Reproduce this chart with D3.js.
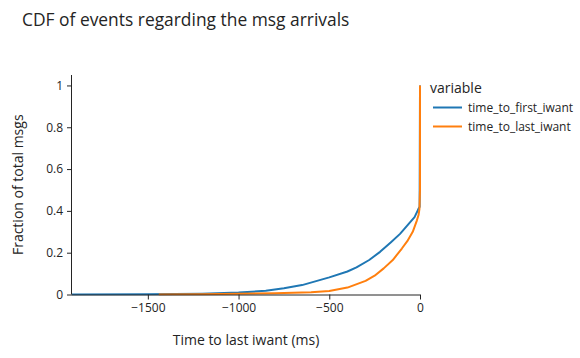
<!DOCTYPE html>
<html><head><meta charset="utf-8">
<script src="https://cdn.jsdelivr.net/npm/d3@7"></script>
<style>body{margin:0;background:#fff}svg{display:block}text{font-family:"Open Sans",sans-serif;fill:rgb(36,36,36)}</style>
</head><body>
<svg id="c" width="580" height="358"></svg>
<script>
const seriesNames = ["time_to_first_iwant", "time_to_last_iwant"];
const colors = ["#1f77b4", "#ff7f0e"];
const firstT = [-1918,-1500,-1200,-1000,-850,-750,-650,-500,-400,-350,-280,-220,-160,-110,-60,-30,-11,-2,0];
const firstF = [0,0.001,0.004,0.009,0.018,0.03,0.045,0.082,0.11,0.13,0.165,0.204,0.25,0.29,0.34,0.37,0.405,0.42,1.0];
const lastT = [-1440,-1200,-1000,-800,-600,-500,-400,-300,-250,-200,-150,-100,-70,-40,-17,-8,-3,0,0];
const lastF = [0,0.001,0.003,0.006,0.011,0.017,0.033,0.065,0.09,0.125,0.165,0.22,0.255,0.3,0.355,0.38,0.41,0.5,1.0];
const xTicks = [-1500,-1000,-500,0];
const yTicks = [0,0.2,0.4,0.6,0.8,1];
const title = "CDF of events regarding the msg arrivals";
const xTitle = "Time to last iwant (ms)";
const yTitle = "Fraction of total msgs";
const legendTitle = "variable";

const svg = d3.select("#c");
const L=72, R=420, T=75, B=294.5;
const x = d3.scaleLinear().domain([-1918,0]).range([L,R]);
const y = d3.scaleLinear().domain([0,1.05]).range([B,T]);

svg.append("text").attr("x",22).attr("y",26).attr("font-size",17.4).text(title);

const series = [firstT.map((t,i)=>[t,firstF[i]]), lastT.map((t,i)=>[t,lastF[i]])];
const line = d3.line().x(d=>x(d[0])).y(d=>y(d[1]));
svg.append("clipPath").attr("id","cp").append("rect").attr("x",L).attr("y",T-2).attr("width",R-L+2).attr("height",B-T+3);
const g = svg.append("g").attr("clip-path","url(#cp)");
series.forEach((s,i)=>{
  g.append("path").attr("d",line(s)).attr("fill","none").attr("stroke",colors[i]).attr("stroke-width",2).attr("stroke-linejoin","round");
});

const xa = svg.append("g").attr("transform",`translate(0,${B})`)
  .call(d3.axisBottom(x).tickValues(xTicks).tickSize(5).tickPadding(4).tickFormat(d=>d===0?"0":d3.format("d")(d).replace("-","\u2212")));
const ya = svg.append("g").attr("transform",`translate(${L},0)`)
  .call(d3.axisLeft(y).tickValues(yTicks).tickSize(5).tickPadding(4).tickFormat(d=>d3.format("~g")(d)));
[xa,ya].forEach(a=>{
  a.selectAll("path").attr("stroke","rgb(36,36,36)");
  a.selectAll("line").attr("stroke","rgb(36,36,36)");
  a.selectAll("text").attr("font-size",12).attr("fill","rgb(36,36,36)").style("font-family","'Open Sans',sans-serif");
});
xa.select(".domain").attr("d",`M${L},0.5H${R}`);
ya.select(".domain").attr("d",`M-0.5,${T}V${B}`);

svg.append("text").attr("x",(L+R)/2).attr("y",345).attr("text-anchor","middle").attr("font-size",14).text(xTitle);
svg.append("text").attr("transform",`translate(23,${(T+B)/2}) rotate(-90)`).attr("text-anchor","middle").attr("font-size",14).text(yTitle);

const lg = svg.append("g");
lg.append("text").attr("x",430).attr("y",93).attr("font-size",14).text(legendTitle);
seriesNames.forEach((n,i)=>{
  const yy = 107.5 + i*19;
  lg.append("line").attr("x1",433).attr("x2",462).attr("y1",yy).attr("y2",yy).attr("stroke",colors[i]).attr("stroke-width",2);
  lg.append("text").attr("x",468).attr("y",yy+4).attr("font-size",12).text(n);
});
</script>
</body></html>
